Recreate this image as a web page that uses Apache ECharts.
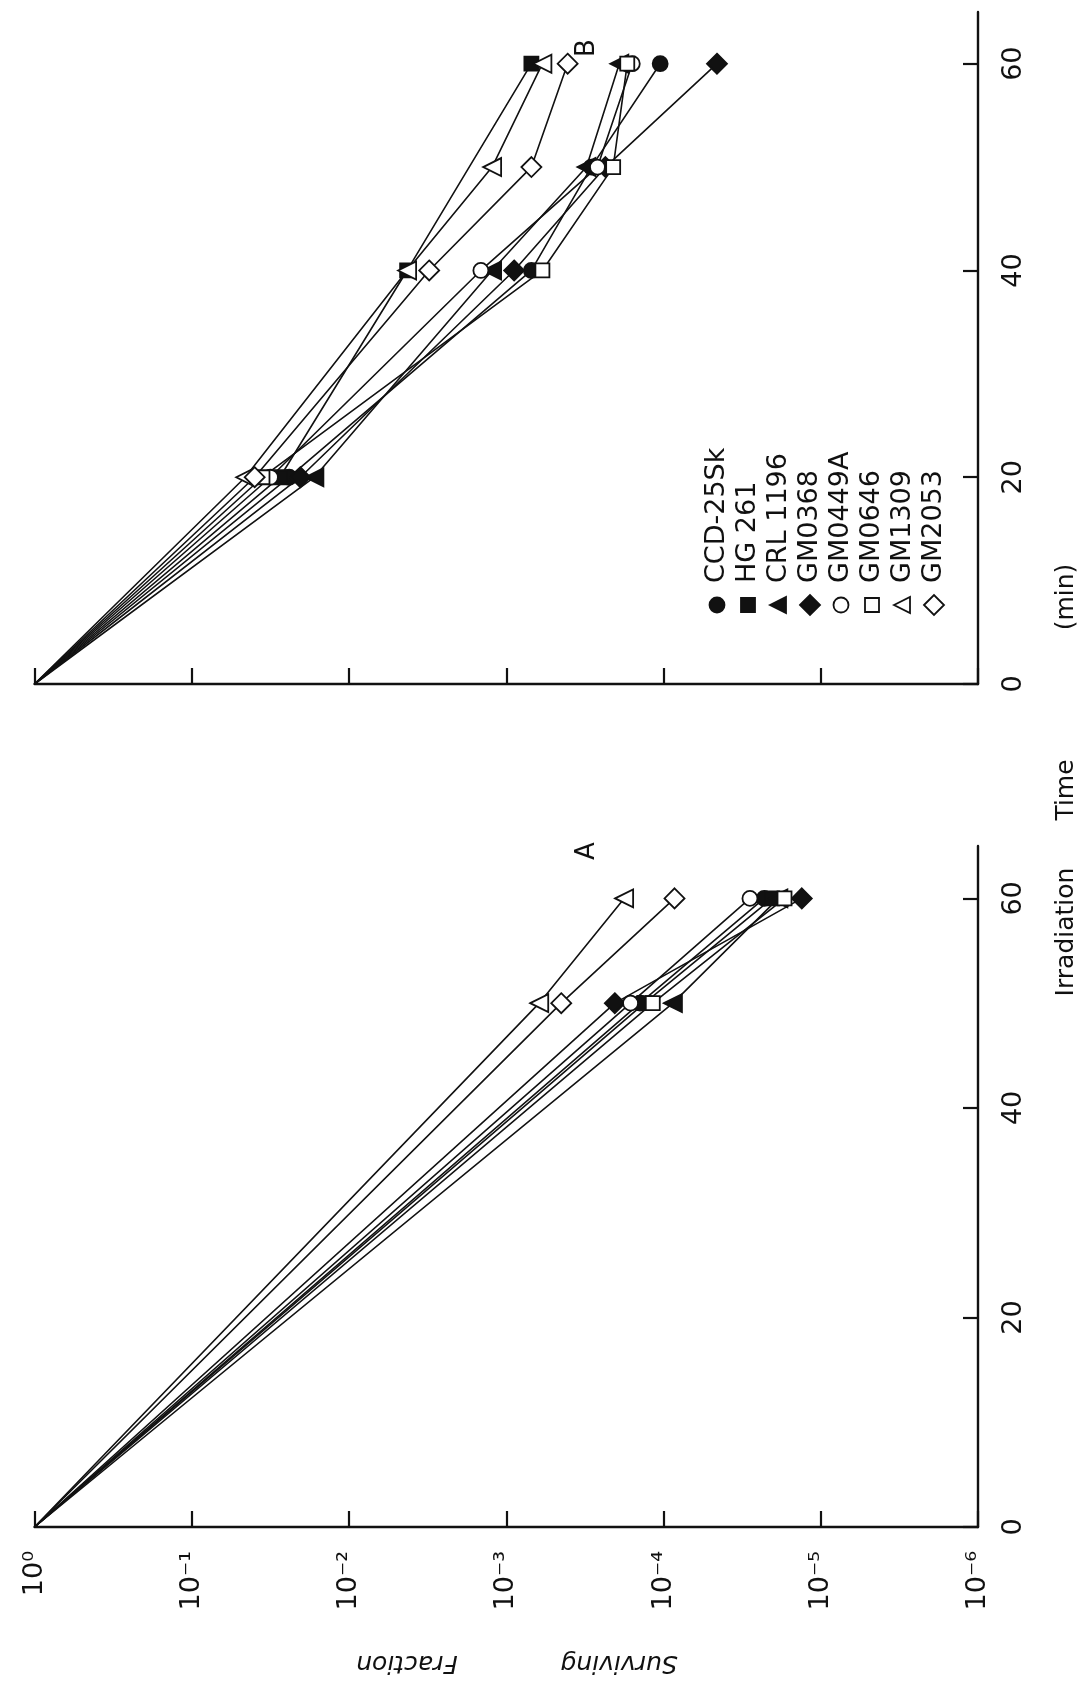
<!DOCTYPE html>
<html>
<head>
<meta charset="utf-8">
<script src="https://cdn.jsdelivr.net/npm/echarts@6/dist/echarts.min.js"></script>
<style>
  html, body { margin: 0; padding: 0; background: #ffffff; }
  #chart { width: 1086px; height: 1690px; }
</style>
</head>
<body>
<div id="chart"></div>
<script>
// Cell strains (legend order) and their marker styles
const strains = ['CCD-25Sk', 'HG 261', 'CRL 1196', 'GM0368', 'GM0449A', 'GM0646', 'GM1309', 'GM2053'];
const markerShapes = ['circle', 'rect', 'triangle', 'diamond', 'circle', 'rect', 'triangle', 'diamond'];
const markerFilled = [true, true, true, true, false, false, false, false];

// Panel A: irradiation time (min) and surviving fraction of each strain
const timesA = [0, 50, 60];
const aCCD25Sk = [1, 1.41e-4, 2.29e-5];
const aHG261   = [1, 1.32e-4, 2.04e-5];
const aCRL1196 = [1, 8.71e-5, 1.86e-5];
const aGM0368  = [1, 2.04e-4, 1.32e-5];
const aGM0449A = [1, 1.62e-4, 2.82e-5];
const aGM0646  = [1, 1.17e-4, 1.70e-5];
const aGM1309  = [1, 6.17e-4, 1.78e-4];
const aGM2053  = [1, 4.47e-4, 8.51e-5];

// Panel B: irradiation time (min) and surviving fraction (null = not measured)
const timesB = [0, 20, 40, 50, 60];
const bCCD25Sk = [1, 2.40e-2, 6.92e-4, 2.88e-4, 1.05e-4];
const bHG261   = [1, 2.75e-2, 4.27e-3, null,    6.92e-4];
const bCRL1196 = [1, 1.66e-2, 1.23e-3, 3.09e-4, 1.91e-4];
const bGM0368  = [1, 2.04e-2, 8.91e-4, 2.34e-4, 4.57e-5];
const bGM0449A = [1, 3.16e-2, 1.45e-3, 2.63e-4, 1.58e-4];
const bGM0646  = [1, 3.55e-2, 5.89e-4, 2.09e-4, 1.70e-4];
const bGM1309  = [1, 4.57e-2, 4.27e-3, 1.23e-3, 5.89e-4];
const bGM2053  = [1, 3.98e-2, 3.09e-3, 6.92e-4, 4.07e-4];

// Axis tick labels
const fractionTickLabels = ['10⁰', '10⁻¹', '10⁻²', '10⁻³', '10⁻⁴', '10⁻⁵', '10⁻⁶'];
const timeTicks = [0, 20, 40, 60];

const panelA = [aCCD25Sk, aHG261, aCRL1196, aGM0368, aGM0449A, aGM0646, aGM1309, aGM2053];
const panelB = [bCCD25Sk, bHG261, bCRL1196, bGM0368, bGM0449A, bGM0646, bGM1309, bGM2053];

const INK = '#111111';
const FONT = 'DejaVu Sans';

const symbolSize = { circle: 15, rect: 14, triangle: 18, diamond: 20 };

function buildSeries(panelIndex, times, table) {
  const out = [];
  table.forEach((vals, i) => {
    const pts = [];
    times.forEach((t, k) => { if (vals[k] != null) pts.push([vals[k], t]); });
    out.push({
      type: 'line', name: strains[i], xAxisIndex: panelIndex, yAxisIndex: panelIndex,
      data: pts, symbol: 'none', silent: true, z: 2,
      lineStyle: { color: INK, width: 1.6 }
    });
    out.push({
      type: 'scatter', name: strains[i], xAxisIndex: panelIndex, yAxisIndex: panelIndex,
      data: pts.filter(p => p[1] > 0), silent: true, z: 3,
      symbol: markerShapes[i],
      symbolSize: symbolSize[markerShapes[i]],
      symbolRotate: markerShapes[i] === 'triangle' ? 90 : 0,
      itemStyle: {
        color: markerFilled[i] ? INK : '#ffffff',
        borderColor: INK, borderWidth: 1.8, opacity: 1
      }
    });
  });
  return out;
}

function fractionAxis(gridIndex, showLabels) {
  return {
    type: 'log', logBase: 10, gridIndex: gridIndex, min: 1e-6, max: 1, inverse: true,
    position: 'bottom',
    axisLine: { show: true, onZero: false, lineStyle: { color: INK, width: 2.4 } },
    axisTick: { show: true, inside: true, length: 16, lineStyle: { color: INK, width: 2.2 } },
    minorTick: { show: false },
    splitLine: { show: false },
    axisLabel: {
      show: showLabels, rotate: 90, margin: 24, color: INK,
      fontFamily: FONT, fontSize: 27,
      formatter: v => fractionTickLabels[Math.round(-Math.log10(v))]
    }
  };
}

function timeAxis(gridIndex) {
  return {
    type: 'value', gridIndex: gridIndex, min: 0, max: 65, interval: 20,
    position: 'right',
    axisLine: { show: true, onZero: false, lineStyle: { color: INK, width: 2.4 } },
    axisTick: { show: true, inside: true, length: 15, customValues: timeTicks,
                lineStyle: { color: INK, width: 2.2 } },
    splitLine: { show: false },
    axisLabel: {
      show: true, rotate: 90, margin: 22, color: INK,
      fontFamily: FONT, fontSize: 27, customValues: timeTicks
    }
  };
}

// Legend: rotated column of marker + strain name
function legendGraphic() {
  const children = [];
  strains.forEach((name, i) => {
    const y = 31 * i;
    const fill = markerFilled[i] ? INK : '#ffffff';
    const st = { fill: fill, stroke: INK, lineWidth: 1.8 };
    const shape = markerShapes[i];
    if (shape === 'circle') {
      children.push({ type: 'circle', shape: { cx: 0, cy: y, r: 7.5 }, style: st });
    } else if (shape === 'rect') {
      children.push({ type: 'rect', shape: { x: -7, y: y - 7, width: 14, height: 14 }, style: st });
    } else if (shape === 'triangle') {
      children.push({ type: 'polygon', shape: { points: [[0, y - 9], [8, y + 7], [-8, y + 7]] }, style: st });
    } else {
      children.push({ type: 'polygon', shape: { points: [[0, y - 10], [10, y], [0, y + 10], [-10, y]] }, style: st });
    }
    children.push({
      type: 'text', x: 22, y: y,
      style: { text: name, fill: INK, font: '27px "' + FONT + '"', align: 'left', verticalAlign: 'middle' }
    });
  });
  return { type: 'group', x: 717, y: 605, rotation: Math.PI / 2, children: children };
}

function label(text, x, y, rotation, size, italic, family) {
  return {
    type: 'text', x: x, y: y, rotation: rotation,
    style: {
      text: text, fill: INK,
      font: (italic ? 'italic ' : '') + size + 'px "' + (family || FONT) + '"',
      align: 'center', verticalAlign: 'middle'
    }
  };
}

const chart = echarts.init(document.getElementById('chart'), null, { renderer: 'canvas' });
chart.setOption({
  backgroundColor: '#ffffff',
  animation: false,
  grid: [
    { left: 34.5, right: 108, top: 12, height: 672, outerBoundsMode: 'none' },
    { left: 34.5, right: 108, top: 846, height: 681, outerBoundsMode: 'none' }
  ],
  xAxis: [fractionAxis(0, false), fractionAxis(1, true)],
  yAxis: [timeAxis(0), timeAxis(1)],
  series: buildSeries(0, timesB, panelB).concat(buildSeries(1, timesA, panelA)),
  graphic: [
    legendGraphic(),
    label('B', 587, 48, Math.PI / 2, 26),
    label('A', 587, 851, Math.PI / 2, 26),
    label('Irradiation', 1066, 932, Math.PI / 2, 25),
    label('Time', 1066, 790, Math.PI / 2, 25),
    label('(min)', 1066, 597, Math.PI / 2, 25),
    label('Fraction', 407, 1662, Math.PI, 25, true),
    label('Surviving', 619, 1662, Math.PI, 25, true)
  ]
});
</script>
</body>
</html>
